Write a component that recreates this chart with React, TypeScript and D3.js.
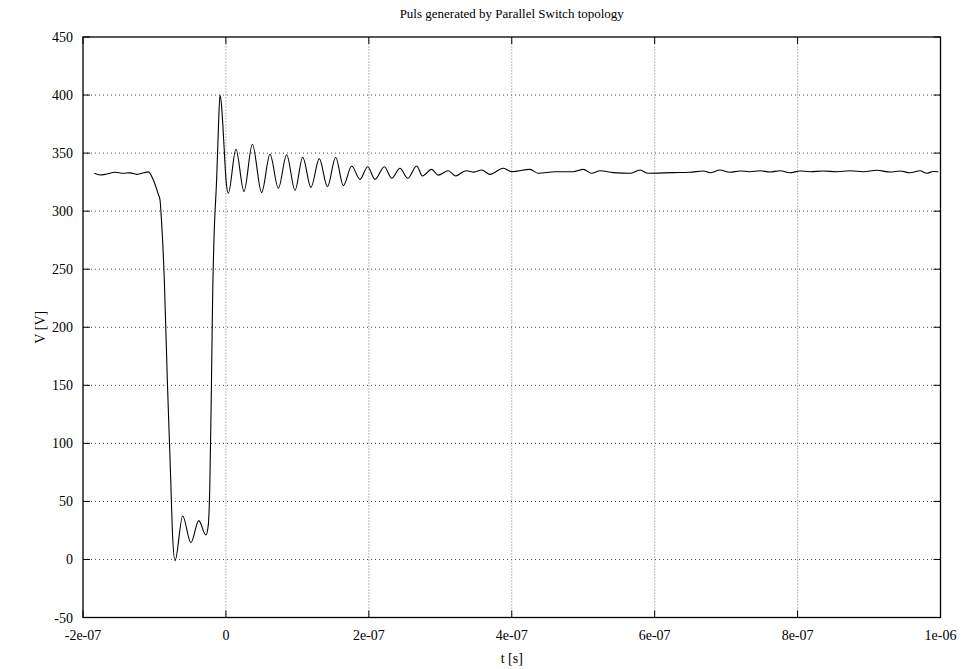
import React, { useEffect, useRef } from "react";
import * as d3 from "d3";

// time in ns, voltage in V
const timeNs = [
  -184.2, -176.2, -166.8, -155.2, -143.6, -134.2, -124.8, -117.8, -108.6, -101.6,
  -94.6, -92.2, -90.8, -86.2, -82.0, -77.2, -75.0, -71.2, -60.5, -49.0,
  -38.0, -28.0, -24.6, -22.5, -20.5, -18.5, -16.5, -13.0, -10.6, -8.3,
  -6.0, -3.0, 0.0, 3.4, 14.0, 25.3, 37.0, 50.0, 61.7, 73.4,
  85.0, 96.7, 107.5, 119.0, 130.7, 142.0, 153.6, 164.3, 176.0, 187.6,
  198.4, 208.6, 221.7, 232.0, 243.6, 254.4, 267.0, 275.0, 288.0, 297.0,
  311.0, 321.6, 332.0, 337.0, 347.0, 358.0, 369.6, 388.2, 400.0, 425.6, 437.2,
  460.5, 486.1, 500.2, 511.9, 523.5, 542.1, 565.5, 579.5, 591.1, 626.1,
  649.5, 668.1, 677.5, 691.4, 705.4, 719.4, 733.4, 747.4, 761.4, 775.4,
  789.4, 803.4, 817.4, 836.0, 854.7, 873.4, 892.0, 910.7, 929.4, 943.4,
  957.4, 971.4, 980.7, 990.0, 997.0,
];

const voltage = [
  332.6, 331.1, 332.0, 333.5, 332.6, 333.0, 331.7, 332.6, 333.8, 326.8,
  314.5, 309.6, 298.1, 240.7, 154.6, 68.4, 25.4, -1.0, 37.4, 14.4,
  33.4, 21.0, 30.0, 65.0, 140.0, 230.0, 280.0, 327.0, 370.0, 400.0,
  390.0, 360.0, 328.0, 315.4, 353.3, 317.0, 357.6, 316.0, 349.0, 319.7,
  348.6, 318.0, 346.4, 320.5, 345.2, 321.0, 346.4, 322.0, 338.9, 327.4,
  338.3, 327.4, 338.3, 328.3, 336.9, 328.3, 338.9, 330.3, 336.0, 331.0,
  334.8, 330.3, 334.0, 334.8, 333.6, 335.4, 331.7, 336.9, 334.0, 336.0, 332.6,
  334.0, 334.0, 336.0, 332.6, 334.8, 333.2, 332.6, 335.4, 332.6, 333.2,
  333.5, 334.6, 333.1, 335.4, 333.5, 334.6, 334.0, 334.8, 333.7, 334.8,
  333.1, 334.6, 334.0, 334.6, 334.0, 334.8, 334.0, 335.2, 333.7, 334.6,
  333.1, 334.8, 332.6, 334.2, 334.0,
];

const xTicks = [-2e-7, 0, 2e-7, 4e-7, 6e-7, 8e-7, 1e-6];
const xTickLabels = ["-2e-07", "0", "2e-07", "4e-07", "6e-07", "8e-07", "1e-06"];
const yTicks = [-50, 0, 50, 100, 150, 200, 250, 300, 350, 400, 450];

const App = () => {
  const ref = useRef<SVGSVGElement>(null);

  useEffect(() => {
    const width = 966;
    const height = 669;
    const marginLeft = 83;
    const marginRight = 25.5;
    const marginTop = 37;
    const marginBottom = 51.5;
    const font = "'Liberation Serif', 'Times New Roman', serif";

    const svg = d3.select(ref.current);
    svg.selectAll("*").remove();

    const x = d3
      .scaleLinear()
      .domain([-2e-7, 1e-6])
      .range([marginLeft, width - marginRight]);
    const y = d3
      .scaleLinear()
      .domain([-50, 450])
      .range([height - marginBottom, marginTop]);

    const x0 = x.range()[0];
    const x1 = x.range()[1];
    const y0 = y.range()[0];
    const y1 = y.range()[1];
    const tickLen = 7;

    // grid
    const grid = svg.append("g");
    grid
      .selectAll(".hgrid")
      .data(yTicks.slice(1, -1))
      .join("line")
      .attr("x1", x0)
      .attr("x2", x1)
      .attr("y1", (d) => y(d))
      .attr("y2", (d) => y(d))
      .attr("stroke", "#444")
      .attr("stroke-width", 1)
      .attr("stroke-dasharray", "1,3");
    grid
      .selectAll(".vgrid")
      .data(xTicks.slice(1, -1))
      .join("line")
      .attr("x1", (d) => x(d))
      .attr("x2", (d) => x(d))
      .attr("y1", y0)
      .attr("y2", y1)
      .attr("stroke", "#777")
      .attr("stroke-width", 1)
      .attr("stroke-dasharray", "1,2");

    // ticks on all four sides, pointing inward
    const ticks = svg.append("g").attr("stroke", "#000").attr("stroke-width", 1);
    yTicks.forEach((v) => {
      ticks.append("line").attr("x1", x0).attr("x2", x0 + tickLen).attr("y1", y(v)).attr("y2", y(v));
      ticks.append("line").attr("x1", x1).attr("x2", x1 - tickLen).attr("y1", y(v)).attr("y2", y(v));
    });
    xTicks.forEach((v) => {
      ticks.append("line").attr("x1", x(v)).attr("x2", x(v)).attr("y1", y0).attr("y2", y0 - tickLen);
      ticks.append("line").attr("x1", x(v)).attr("x2", x(v)).attr("y1", y1).attr("y2", y1 + tickLen);
    });

    // tick labels
    svg
      .append("g")
      .selectAll("text")
      .data(yTicks)
      .join("text")
      .attr("x", x0 - 10)
      .attr("y", (d) => y(d) + 5)
      .attr("text-anchor", "end")
      .attr("font-family", font)
      .attr("font-size", 14)
      .text((d) => String(d));

    svg
      .append("g")
      .selectAll("text")
      .data(xTicks)
      .join("text")
      .attr("x", (d) => x(d))
      .attr("y", y0 + 22)
      .attr("text-anchor", "middle")
      .attr("font-family", font)
      .attr("font-size", 14)
      .text((d, i) => xTickLabels[i]);

    // the trace
    const pts = timeNs.map((t, i) => [t * 1e-9, voltage[i]] as [number, number]);
    const trace = d3
      .line<[number, number]>()
      .x((d) => x(d[0]))
      .y((d) => y(d[1]))
      .curve(d3.curveMonotoneX);
    svg
      .append("path")
      .datum(pts)
      .attr("d", trace)
      .attr("fill", "none")
      .attr("stroke", "#000")
      .attr("stroke-width", 1.1);

    // frame
    svg
      .append("rect")
      .attr("x", x0)
      .attr("y", y1)
      .attr("width", x1 - x0)
      .attr("height", y0 - y1)
      .attr("fill", "none")
      .attr("stroke", "#000")
      .attr("stroke-width", 1.3);

    // titles
    svg
      .append("text")
      .attr("x", (x0 + x1) / 2)
      .attr("y", 18)
      .attr("text-anchor", "middle")
      .attr("font-family", font)
      .attr("font-size", 13)
      .text("Puls generated by Parallel Switch topology");

    svg
      .append("text")
      .attr("x", (x0 + x1) / 2)
      .attr("y", 663)
      .attr("text-anchor", "middle")
      .attr("font-family", font)
      .attr("font-size", 14)
      .text("t [s]");

    svg
      .append("text")
      .attr("transform", `translate(45,${(y0 + y1) / 2}) rotate(-90)`)
      .attr("text-anchor", "middle")
      .attr("font-family", font)
      .attr("font-size", 14)
      .text("V [V]");
  }, []);

  return (
    <svg
      ref={ref}
      width={966}
      height={669}
      style={{ position: "absolute", left: 0, top: 0, background: "#fff" }}
    />
  );
};

export default App;
